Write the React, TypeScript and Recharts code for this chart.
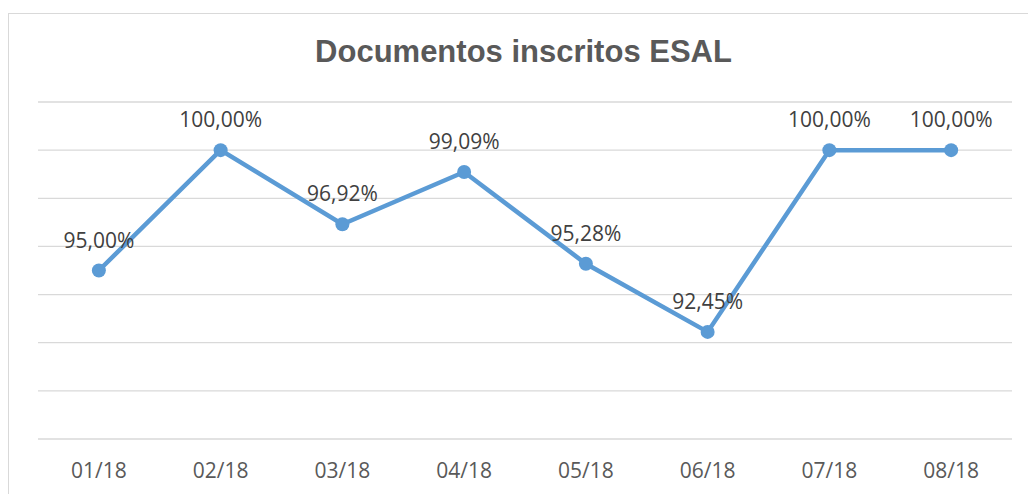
import React from "react";
import { LineChart, Line, XAxis, YAxis, CartesianGrid } from "recharts";

const categories = ["01/18", "02/18", "03/18", "04/18", "05/18", "06/18", "07/18", "08/18"];
const values = [95.0, 100.0, 96.92, 99.09, 95.28, 92.45, 100.0, 100.0];
const yTicks = [88, 90, 92, 94, 96, 98, 100, 102];
const title = "Documentos inscritos ESAL";

const data = categories.map((c, i) => ({ name: c, value: values[i] }));

const fmt = (v: number) => v.toFixed(2).replace(".", ",") + "%";

const PointLabel = (props: any) => {
  const { x, y, value } = props;
  return (
    <text
      x={x}
      y={y - 23}
      textAnchor="middle"
      fontFamily="'Open Sans', sans-serif"
      fontSize={21}
      fill="#404040"
    >
      {fmt(value)}
    </text>
  );
};

export default function App() {
  return (
    <div
      style={{
        position: "fixed",
        left: 0,
        top: 0,
        width: 1028,
        height: 494,
        overflow: "hidden",
        background: "#fff",
      }}
    >
      <div
        style={{
          position: "absolute",
          left: 8,
          top: 13,
          width: 1100,
          height: 600,
          border: "1px solid #d9d9d9",
          boxSizing: "border-box",
        }}
      />
      <div
        style={{
          position: "absolute",
          left: 0,
          top: 36,
          width: 1047,
          textAlign: "center",
          fontFamily: "'Liberation Sans', Arial, sans-serif",
          fontWeight: "bold",
          fontSize: 31,
          lineHeight: "31px",
          color: "#595959",
          whiteSpace: "nowrap",
        }}
      >
        {title}
      </div>
      <div style={{ position: "absolute", left: 0, top: 0 }}>
        <LineChart
          width={1028}
          height={494}
          data={data}
          margin={{ top: 102, left: 38, right: 16, bottom: 0 }}
        >
          <CartesianGrid vertical={false} stroke="#d9d9d9" strokeWidth={1.3} />
          <XAxis
            dataKey="name"
            scale="band"
            height={55}
            axisLine={false}
            tickLine={false}
            tickMargin={18}
            interval={0}
            tick={{ fontFamily: "'Open Sans', sans-serif", fontSize: 21, fill: "#595959" }}
          />
          <YAxis hide domain={[88, 102]} ticks={yTicks} />
          <Line
            type="linear"
            dataKey="value"
            stroke="#5B9BD5"
            strokeWidth={4.5}
            dot={{ r: 7, fill: "#5B9BD5", stroke: "#5B9BD5", strokeWidth: 0 }}
            activeDot={false}
            isAnimationActive={false}
            label={<PointLabel />}
          />
        </LineChart>
      </div>
    </div>
  );
}
